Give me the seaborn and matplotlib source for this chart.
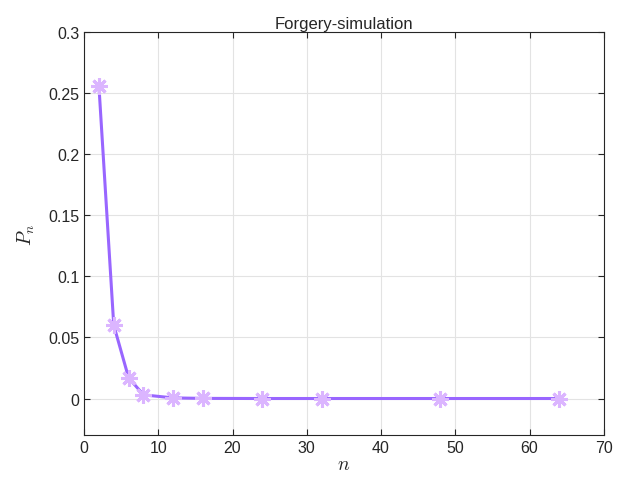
import numpy as np
import pandas as pd
import seaborn as sns
import matplotlib.pyplot as plt
from matplotlib.markers import MarkerStyle

n_vals = [2, 4, 6, 8, 12, 16, 24, 32, 48, 64]
p_vals = [0.256, 0.060, 0.017, 0.003, 0.0005, 0.0001, 0.0, 0.0, 0.0, 0.0]
x_ticks = [0, 10, 20, 30, 40, 50, 60, 70]
y_ticks = [0, 0.05, 0.1, 0.15, 0.2, 0.25, 0.3]
y_labels = ['0', '0.05', '0.1', '0.15', '0.2', '0.25', '0.3']

df = pd.DataFrame({'n': n_vals, 'P': p_vals})

sns.set_style('ticks')
plt.rcParams['font.family'] = ['Liberation Sans', 'DejaVu Sans']
plt.rcParams['mathtext.fontset'] = 'cm'

fig = plt.figure(figsize=(6.18, 4.89), dpi=100)
ax = fig.add_axes([0.136, 0.108, 0.841, 0.825])

star = MarkerStyle((8, 2, 0), capstyle='butt')
sns.lineplot(data=df, x='n', y='P', ax=ax, color='#9966ff', linewidth=2.2,
             marker=star, markersize=12, markeredgewidth=2.2,
             markeredgecolor='#dbb5ff', markerfacecolor='#dbb5ff', zorder=3)

ax.set_xlim(0, 70)
ax.set_ylim(-0.03, 0.3)
ax.set_xticks(x_ticks)
ax.set_yticks(y_ticks)
ax.set_yticklabels(y_labels)
ax.grid(True, color='#e3e3e3', linewidth=0.8)
ax.tick_params(direction='in', length=4, width=0.8, labelsize=11.5, colors='#262626',
               top=True, right=True)
for s in ax.spines.values():
    s.set_visible(True)
    s.set_color('#262626')
    s.set_linewidth(0.8)

ax.set_xlabel('$n$', fontsize=14, labelpad=1)
ax.set_ylabel('$P_n$', fontsize=14, labelpad=8)
ax.set_title('Forgery-simulation', fontsize=12, pad=3)

plt.savefig('out.png', dpi=100)
